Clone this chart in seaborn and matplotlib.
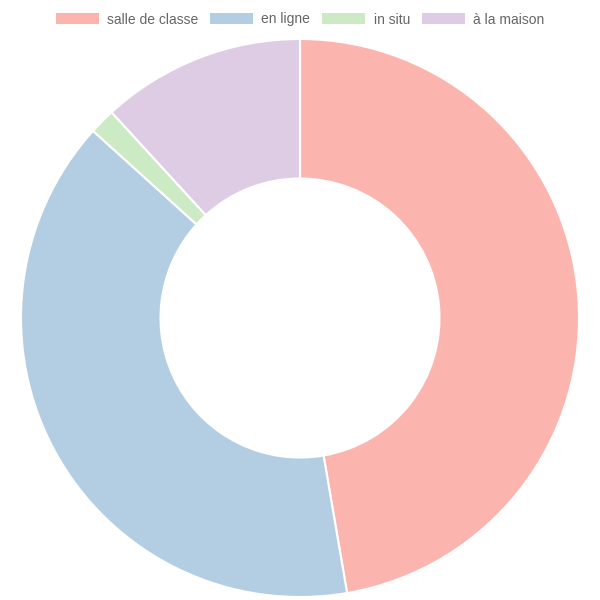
import matplotlib
matplotlib.use("Agg")
import matplotlib.pyplot as plt
from matplotlib.patches import Patch
import seaborn as sns

# share of each learning setting (percent)
labels = ["salle de classe", "en ligne", "in situ", "à la maison"]
values = [47.3, 39.4, 1.5, 11.8]

sns.set_theme(style="white")
plt.rcParams["font.family"] = ["Liberation Sans", "DejaVu Sans"]
colors = sns.color_palette("Pastel1", len(values))

fig = plt.figure(figsize=(6, 6), dpi=100)
ax = fig.add_axes([21 / 600, 3 / 600, 558 / 600, 558 / 600])

ax.pie(values, colors=colors, startangle=90, counterclock=False,
       radius=1.0,
       wedgeprops=dict(width=0.5, edgecolor="white", linewidth=1.5))
ax.set_xlim(-1, 1)
ax.set_ylim(-1, 1)
ax.set_aspect("equal")
ax.axis("off")

handles = [Patch(facecolor=c, edgecolor="none") for c in colors]
fig.legend(handles, labels, loc="upper center", bbox_to_anchor=(0.5, 1.0),
           ncol=4, frameon=False, fontsize=10, labelcolor="#666666",
           handlelength=3.1, handleheight=0.9, handletextpad=0.6,
           columnspacing=0.85)

fig.savefig("out.png", dpi=100)
